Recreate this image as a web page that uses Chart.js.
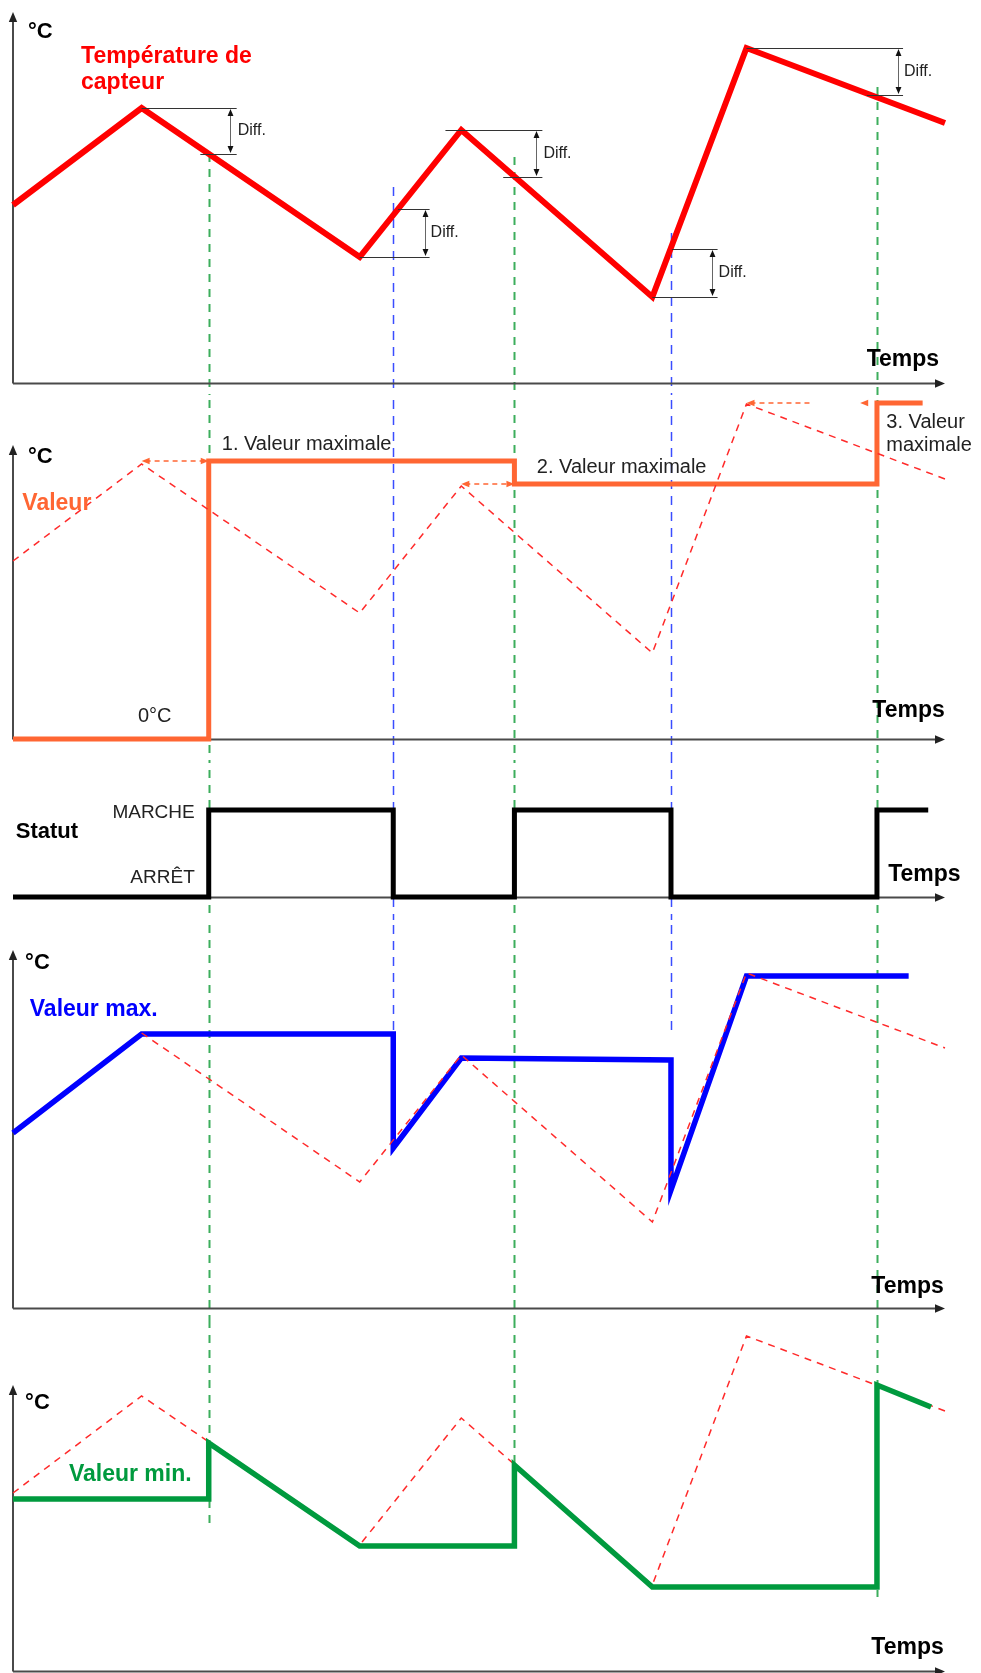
<!DOCTYPE html>
<html lang="fr">
<head>
<meta charset="utf-8">
<script src="https://cdn.jsdelivr.net/npm/chart.js@4.4.0/dist/chart.umd.min.js"></script>
<style>
html, body { margin: 0; padding: 0; background: #fff; }
#page { position: relative; width: 981px; height: 1673px; overflow: hidden; }
#page canvas { position: absolute; left: 0; }
</style>
</head>
<body>
<div id="page">
  <canvas id="c1" width="981" height="395" style="top:0px"></canvas>
  <canvas id="c2" width="981" height="365" style="top:395px"></canvas>
  <canvas id="c3" width="981" height="160" style="top:760px"></canvas>
  <canvas id="c4" width="981" height="400" style="top:920px"></canvas>
  <canvas id="c5" width="981" height="353" style="top:1320px"></canvas>
</div>
<script>
// temps 0..100, températures en unités relatives
const tCapteur = [0, 13.8, 37.2, 48.1, 68.6, 78.7, 100];
const capteur  = [17.8, 27.5, 12.6, 25.3, 8.6, 33.5, 26.0];

const tValeur = [0, 21.0, 21.0, 53.8, 53.8, 92.7, 92.7, 97.6];
const valeur  = [0, 0, 27.8, 27.8, 25.5, 25.5, 33.6, 33.6];

const tStatut = [0, 21.0, 21.0, 40.8, 40.8, 53.8, 53.8, 70.6, 70.6, 92.7, 92.7, 98.2];
const statut  = [0, 0, 1, 1, 0, 0, 1, 1, 0, 0, 1, 1];

const tMax      = [0, 13.8, 40.8, 40.8, 48.1, 70.6, 70.6, 78.7, 96.1];
const valeurMax = [17.5, 27.4, 27.4, 16.0, 25.0, 24.8, 11.8, 33.2, 33.2];

const tMin      = [0, 21.0, 21.0, 37.2, 53.8, 53.8, 68.6, 92.7, 92.7, 98.5];
const valeurMin = [17.2, 17.2, 22.8, 12.5, 12.5, 20.6, 8.4, 8.4, 28.6, 26.4];

// lignes de commutation (vert = marche, bleu = arrêt)
const tGuides     = [21.0, 40.8, 53.8, 70.6, 92.7];
const typeGuides  = ['vert', 'bleu', 'vert', 'bleu', 'vert'];
const debutGuides = [[0, 22.9], [0, 19.6], [0, 22.6], [0, 15.0], [0, 29.6]];
const finGuides   = [[4, 14.4], [3, 27.6], [4, 20.8], [3, 27.6], [4, 7.4]];

// Diff. : [t flèche, haut, bas, début trait haut, début trait bas, fin]
const diffs = [
  [23.3, 27.5, 22.9, 13.8, 20.1, 24.0],
  [44.2, 17.4, 12.6, 41.3, 37.2, 44.7],
  [56.1, 25.3, 20.6, 46.4, 52.6, 56.8],
  [75.0, 13.4, 8.6, 70.7, 68.6, 75.6],
  [95.0, 33.5, 28.8, 78.7, 91.6, 95.5]
];

// flèches pointillées orange : [t1, t2, valeur, pointes]
const fleches = [
  [13.8, 21.0, 27.8, 'both'],
  [48.1, 53.8, 25.5, 'both'],
  [78.7, 85.5, 33.6, 'left'],
  [90.9, 91.9, 33.6, 'left']
];

const ROUGE = '#ff0000', ORANGE = '#ff6633', BLEU = '#0000ff', VERT = '#009a3e';
const POLICE = '"Liberation Sans", Arial, sans-serif';

const textes = {
  c1: [
    ['°C', 1.6, 35.1, 'bold 22px', '#000'],
    ['Température de', 7.3, 32.6, 'bold 23px', ROUGE],
    ['capteur', 7.3, 30.0, 'bold 23px', ROUGE],
    ['Temps', 91.6, 2.3, 'bold 23px', '#000']
  ],
  c2: [
    ['°C', 1.6, 28.2, 'bold 22px', '#000'],
    ['Valeur', 1.0, 23.5, 'bold 23px', ORANGE],
    ['1. Valeur maximale', 22.4, 29.5, '20px', '#222'],
    ['2. Valeur maximale', 56.2, 27.2, '20px', '#222'],
    ['3. Valeur', 93.7, 31.7, '20px', '#222'],
    ['maximale', 93.7, 29.4, '20px', '#222'],
    ['0°C', 13.4, 2.3, '20px', '#222'],
    ['Temps', 92.2, 2.8, 'bold 23px', '#000']
  ],
  c3: [
    ['MARCHE', 19.5, 0.97, '19px', '#222', 'right'],
    ['ARRÊT', 19.5, 0.22, '19px', '#222', 'right'],
    ['Statut', 0.3, 0.75, 'bold 22px', '#000'],
    ['Temps', 93.9, 0.26, 'bold 23px', '#000']
  ],
  c4: [
    ['°C', 1.3, 34.5, 'bold 22px', '#000'],
    ['Valeur max.', 1.8, 29.8, 'bold 23px', BLEU],
    ['Temps', 92.1, 2.1, 'bold 23px', '#000']
  ],
  c5: [
    ['°C', 1.3, 26.8, 'bold 22px', '#000'],
    ['Valeur min.', 6.0, 19.6, 'bold 23px', VERT],
    ['Temps', 92.1, 2.3, 'bold 23px', '#000']
  ]
};

function serie(ts, vs, color, width, dash) {
  return {
    data: ts.map((t, i) => ({x: t, y: vs[i]})),
    borderColor: color, borderWidth: width, borderDash: dash || [],
    fill: false, pointRadius: 0, clip: false, tension: 0,
    borderJoinStyle: 'miter', borderCapStyle: 'butt'
  };
}
function pointilles(debut) {
  const k = debut || 0;
  return serie(tCapteur.slice(k), capteur.slice(k), '#ff2a2a', 1.5, [7, 6]);
}

// le premier jeu de données est dessiné au-dessus
const panneaux = [
  {id: 'c1', top: 0, padTop: 12, padBottom: 12, yMax: 37.1, axeY: true,
   datasets: [serie(tCapteur, capteur, ROUGE, 6)]},
  {id: 'c2', top: 395, padTop: 50, padBottom: 21, yMax: 29.4, axeY: true,
   datasets: [pointilles(), serie(tValeur, valeur, ORANGE, 5)]},
  {id: 'c3', top: 760, padTop: 50, padBottom: 23, yMax: 1, axeY: false,
   datasets: [serie(tStatut, statut, '#000', 5)]},
  {id: 'c4', top: 920, padTop: 30, padBottom: 12, yMax: 35.8, axeY: true,
   datasets: [pointilles(1), serie(tMax, valeurMax, BLEU, 5.5)]},
  {id: 'c5', top: 1320, padTop: 65, padBottom: 2, yMax: 28.6, axeY: true,
   datasets: [serie(tMin, valeurMin, VERT, 5.5), pointilles()]}
];

function pointe(ctx, x, y, dx, dy, size) {
  const w = size * 0.42;
  ctx.beginPath();
  ctx.moveTo(x, y);
  ctx.lineTo(x - dx * size - dy * w, y - dy * size + dx * w);
  ctx.lineTo(x - dx * size + dy * w, y - dy * size - dx * w);
  ctx.closePath();
  ctx.fill();
}

const schema = {
  id: 'schema',
  beforeDatasetsDraw(chart) {
    const idx = panneaux.findIndex(p => p.id === chart.canvas.id);
    const p = panneaux[idx];
    const ctx = chart.ctx, xs = chart.scales.x, ys = chart.scales.y;
    ctx.save();
    // lignes verticales pointillées
    for (let i = 0; i < tGuides.length; ++i) {
      const a = debutGuides[i], b = finGuides[i];
      if (idx < a[0] || idx > b[0]) continue;
      const y1 = idx === a[0] ? ys.getPixelForValue(a[1]) : 0;
      const y2 = idx === b[0] ? ys.getPixelForValue(b[1]) : chart.height;
      const x = Math.round(xs.getPixelForValue(tGuides[i])) + 0.5;
      if (typeGuides[i] === 'vert') {
        ctx.strokeStyle = '#3cae5c'; ctx.lineWidth = 2; ctx.setLineDash([8, 7]);
      } else {
        ctx.strokeStyle = '#3a4dff'; ctx.lineWidth = 1.5; ctx.setLineDash([9, 7]);
      }
      ctx.lineDashOffset = -(p.top % 15);
      ctx.beginPath(); ctx.moveTo(x, y1); ctx.lineTo(x, y2); ctx.stroke();
    }
    ctx.setLineDash([]);
    // axes
    const x0 = xs.getPixelForValue(0), x1 = xs.getPixelForValue(100);
    const y0 = Math.round(ys.getPixelForValue(0)) + 0.5, yt = ys.getPixelForValue(ys.max);
    ctx.strokeStyle = '#4a4a4a'; ctx.fillStyle = '#222'; ctx.lineWidth = 2;
    ctx.beginPath(); ctx.moveTo(x0, y0); ctx.lineTo(x1 - 6, y0); ctx.stroke();
    pointe(ctx, x1, y0, 1, 0, 10);
    if (p.axeY) {
      ctx.beginPath(); ctx.moveTo(x0, y0); ctx.lineTo(x0, yt + 6); ctx.stroke();
      pointe(ctx, x0, yt, 0, -1, 10);
    }
    ctx.restore();
  },
  afterDatasetsDraw(chart) {
    const id = chart.canvas.id;
    const ctx = chart.ctx, xs = chart.scales.x, ys = chart.scales.y;
    const X = t => xs.getPixelForValue(t), Y = v => ys.getPixelForValue(v);
    ctx.save();
    if (id === 'c1') {
      diffs.forEach(d => {
        const [ta, hi, lo, hiFrom, loFrom, tEnd] = d;
        ctx.strokeStyle = '#333'; ctx.lineWidth = 1;
        ctx.beginPath();
        ctx.moveTo(X(hiFrom), Math.round(Y(hi)) + 0.5); ctx.lineTo(X(tEnd), Math.round(Y(hi)) + 0.5);
        ctx.moveTo(X(loFrom), Math.round(Y(lo)) + 0.5); ctx.lineTo(X(tEnd), Math.round(Y(lo)) + 0.5);
        ctx.stroke();
        const xa = Math.round(X(ta)) + 0.5;
        ctx.strokeStyle = '#666';
        ctx.beginPath(); ctx.moveTo(xa, Y(hi) + 5); ctx.lineTo(xa, Y(lo) - 5); ctx.stroke();
        ctx.fillStyle = '#111';
        pointe(ctx, xa, Y(hi) + 1, 0, -1, 7);
        pointe(ctx, xa, Y(lo) - 1, 0, 1, 7);
        ctx.font = '16px ' + POLICE; ctx.textBaseline = 'middle'; ctx.textAlign = 'left';
        ctx.fillStyle = '#222';
        ctx.fillText('Diff.', X(tEnd) + 1, Y((hi + lo) / 2));
      });
    }
    if (id === 'c2') {
      ctx.strokeStyle = ORANGE; ctx.fillStyle = ORANGE; ctx.lineWidth = 1.5;
      fleches.forEach(f => {
        const [t1, t2, v, mode] = f;
        const y = Y(v);
        if (t2 - t1 > 2) {
          ctx.setLineDash([5, 4]);
          ctx.beginPath(); ctx.moveTo(X(t1) + 4, y); ctx.lineTo(X(t2) - (mode === 'both' ? 4 : 0), y); ctx.stroke();
          ctx.setLineDash([]);
        }
        pointe(ctx, X(t1), y, -1, 0, 8);
        if (mode === 'both') pointe(ctx, X(t2), y, 1, 0, 8);
      });
    }
    (textes[id] || []).forEach(tx => {
      const [s, t, v, f, c, al] = tx;
      ctx.font = f + ' ' + POLICE;
      ctx.fillStyle = c; ctx.textAlign = al || 'left'; ctx.textBaseline = 'middle';
      ctx.fillText(s, X(t), Y(v));
    });
    ctx.restore();
  }
};

panneaux.forEach(p => {
  new Chart(document.getElementById(p.id), {
    type: 'line',
    data: {datasets: p.datasets},
    options: {
      responsive: false,
      animation: false,
      events: [],
      layout: {padding: {left: 13, right: 36, top: p.padTop, bottom: p.padBottom}},
      plugins: {legend: {display: false}, tooltip: {enabled: false}},
      scales: {
        x: {type: 'linear', min: 0, max: 100, display: false},
        y: {type: 'linear', min: 0, max: p.yMax, display: false}
      }
    },
    plugins: [schema]
  });
});
</script>
</body>
</html>
